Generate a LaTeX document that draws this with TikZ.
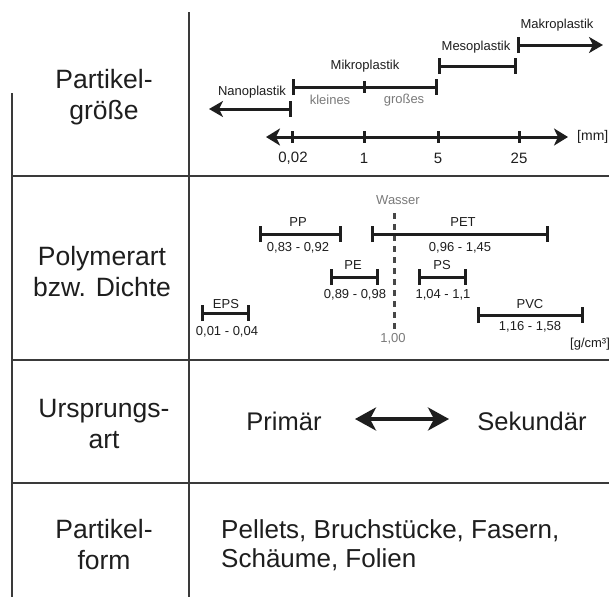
\documentclass[tikz,border=0pt]{standalone}
\usepackage{fontspec}
\setmainfont{Liberation Sans}
\usetikzlibrary{arrows.meta}
\definecolor{ink}{HTML}{1E1E1E}
\definecolor{linegray}{HTML}{3A3A3A}
\definecolor{softgray}{HTML}{7A7A7A}
\begin{document}
\begin{tikzpicture}[x=1pt,y=-1pt,
  grid/.style={line width=1.1pt, draw=linegray},
  bar/.style={line width=3pt, draw=ink, {Bar[width=16pt,line width=3pt]}-{Bar[width=16pt,line width=3pt]}},
  barleft/.style={line width=3pt, draw=ink, {Stealth[length=14pt,width=16pt,inset=4pt]}-{Bar[width=16pt,line width=3pt]}},
  barright/.style={line width=3pt, draw=ink, {Bar[width=16pt,line width=3pt]}-{Stealth[length=14pt,width=16pt,inset=4pt]}},
  axis/.style={line width=3pt, draw=ink, {Stealth[length=14pt,width=17pt,inset=4pt]}-{Stealth[length=14pt,width=17pt,inset=4pt]}},
  tick/.style={line width=3pt, draw=ink},
  biglab/.style={font=\fontsize{26.5}{31}\selectfont, text=ink, align=center, inner sep=0pt},
  midlab/.style={font=\fontsize{25.5}{29}\selectfont, text=ink, inner sep=0pt},
  lab/.style={font=\fontsize{13}{15}\selectfont, text=ink, inner sep=0pt},
  numlab/.style={font=\fontsize{15}{17}\selectfont, text=ink, inner sep=0pt},
  greylab/.style={font=\fontsize{13}{15}\selectfont, text=softgray, inner sep=0pt},
  water/.style={line width=3pt, draw=black!72, dash pattern=on 6pt off 5pt},
  dblarrow/.style={line width=3.5pt, draw=ink, {Stealth[length=21pt,width=23pt,inset=6pt]}-{Stealth[length=21pt,width=23pt,inset=6pt]}}
]
\useasboundingbox (0,0) rectangle (609,597);
\fill[white] (0,0) rectangle (609,597);

% ---------- table grid ----------
\coordinate (vtop) at (189,12);
\coordinate (vbot) at (189,597);
\coordinate (ltop) at (12,93);
\coordinate (lbot) at (12,597);
\coordinate (h1l) at (12,176);  \coordinate (h1r) at (609,176);
\coordinate (h2l) at (12,360);  \coordinate (h2r) at (609,360);
\coordinate (h3l) at (12,483);  \coordinate (h3r) at (609,483);
\draw[grid] (vtop) -- (vbot);
\draw[grid] (ltop) -- (lbot);
\draw[grid] (h1l) -- (h1r);
\draw[grid] (h2l) -- (h2r);
\draw[grid] (h3l) -- (h3r);

% ---------- row labels ----------
\node[biglab] (rowA) at (104,97) {Partikel-\\größe};
\node[biglab] (rowB) at (102,272) {Polymerart\\bzw. Dichte};
\node[biglab] (rowC) at (104,424) {Ursprungs-\\art};
\node[biglab] (rowD) at (104,545) {Partikel-\\form};

% ---------- particle size ----------
\coordinate (makL) at (517,45);  \coordinate (makR) at (603,45);
\coordinate (mesL) at (438,66);  \coordinate (mesR) at (517,66);
\coordinate (mikL) at (292,87);  \coordinate (mikR) at (438,87);
\coordinate (mikMa) at (364,81); \coordinate (mikMb) at (364,93);
\coordinate (nanR) at (292,109); \coordinate (nanL) at (209,109);
\draw[barright] (makL) -- (makR);
\draw[bar] (mesL) -- (mesR);
\draw[bar] (mikL) -- (mikR);
\draw[tick] (mikMa) -- (mikMb);
\draw[barleft] (nanL) -- (nanR);

\node[lab] (makro) at (557,25) {Makroplastik};
\node[lab] (meso) at (476,47) {Mesoplastik};
\node[lab] (mikro) at (365,66) {Mikroplastik};
\node[lab] (nano) at (252,92) {Nanoplastik};
\node[greylab] (klein) at (330,100) {kleines};
\node[greylab] (gross) at (404,100) {großes};

\coordinate (axL) at (266,137); \coordinate (axR) at (568,137);
\draw[axis] (axL) -- (axR);
\coordinate (t1a) at (292,131); \coordinate (t1b) at (292,143);
\coordinate (t2a) at (364,131); \coordinate (t2b) at (364,143);
\coordinate (t3a) at (438,131); \coordinate (t3b) at (438,143);
\coordinate (t4a) at (519,131); \coordinate (t4b) at (519,143);
\draw[tick] (t1a) -- (t1b);
\draw[tick] (t2a) -- (t2b);
\draw[tick] (t3a) -- (t3b);
\draw[tick] (t4a) -- (t4b);
\node[numlab] (n1) at (293,158) {0,02};
\node[numlab] (n2) at (364,158) {1};
\node[numlab] (n3) at (438,158) {5};
\node[numlab] (n4) at (519,158) {25};
\node[numlab, anchor=west, font=\fontsize{14}{16}\selectfont] (mm) at (577,137) {[mm]};

% ---------- polymer density ----------
\coordinate (wtop) at (394,213); \coordinate (wbot) at (394,330);
\draw[water] (wtop) -- (wbot);
\node[greylab] (wasser) at (398,200) {Wasser};
\node[greylab] (eins) at (393,339) {1,00};

\coordinate (ppL) at (259,234);  \coordinate (ppR) at (342,234);
\coordinate (petL) at (371,234); \coordinate (petR) at (549,234);
\coordinate (peL) at (330,277);  \coordinate (peR) at (379,277);
\coordinate (psL) at (418,277);  \coordinate (psR) at (467,277);
\coordinate (epsL) at (201,313); \coordinate (epsR) at (250,313);
\coordinate (pvcL) at (477,315); \coordinate (pvcR) at (584,315);
\draw[bar] (ppL) -- (ppR);
\draw[bar] (petL) -- (petR);
\draw[bar] (peL) -- (peR);
\draw[bar] (psL) -- (psR);
\draw[bar] (epsL) -- (epsR);
\draw[bar] (pvcL) -- (pvcR);

\node[lab] (pp) at (298,222) {PP};
\node[lab] (ppr) at (298,248) {0,83 - 0,92};
\node[lab] (pet) at (463,222) {PET};
\node[lab] (petr) at (460,248) {0,96 - 1,45};
\node[lab] (pe) at (353,265) {PE};
\node[lab] (per) at (355,295) {0,89 - 0,98};
\node[lab] (ps) at (442,265) {PS};
\node[lab] (psr) at (443,295) {1,04 - 1,1};
\node[lab] (eps) at (226,304) {EPS};
\node[lab] (epsr) at (227,332) {0,01 - 0,04};
\node[lab] (pvc) at (530,304) {PVC};
\node[lab] (pvcr) at (530,327) {1,16 - 1,58};
\node[lab, anchor=west] (gcm) at (570,344) {[g/cm³]};

% ---------- origin ----------
\node[midlab] (prim) at (284,421) {Primär};
\node[midlab] (sek) at (532,421) {Sekundär};
\coordinate (arL) at (355,419); \coordinate (arR) at (449,419);
\draw[dblarrow] (arL) -- (arR);

% ---------- form ----------
\node[font=\fontsize{26}{29}\selectfont, text=ink, align=left, anchor=west, inner sep=0pt] (form) at (221,545) {Pellets, Bruchstücke, Fasern,\\Schäume, Folien};
\end{tikzpicture}
\end{document}
